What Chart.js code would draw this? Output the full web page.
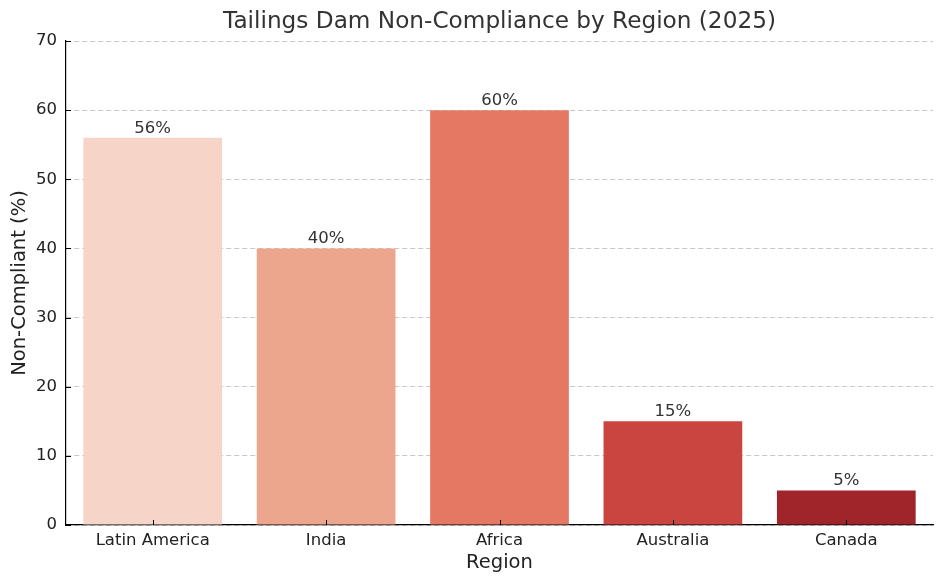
<!DOCTYPE html>
<html>
<head>
<meta charset="utf-8">
<script src="https://cdn.jsdelivr.net/npm/chart.js@4"></script>
<style>
  html, body { margin: 0; padding: 0; background: #fff; }
  #wrap { width: 945px; height: 586px; }
</style>
</head>
<body>
<div id="wrap"><canvas id="chart"></canvas></div>
<script>
// ---------- DATA ----------
const regions = ["Latin America", "India", "Africa", "Australia", "Canada"];
const nonCompliant = [56, 40, 60, 15, 5];
const barColors = ["#f6d5c8", "#eca68d", "#e47862", "#cb4540", "#9f252b"];
const yTicks = [0, 10, 20, 30, 40, 50, 60, 70];

const FONT = "'DejaVu Sans', sans-serif";
const TITLE = "Tailings Dam Non-Compliance by Region (2025)";

// title centred over the plot area, value labels, inward tick marks
const extras = {
  id: "extras",
  afterDatasetsDraw(chart) {
    const ctx = chart.ctx;
    const area = chart.chartArea;
    const meta = chart.getDatasetMeta(0);
    ctx.save();
    ctx.font = "16.5px " + FONT;
    ctx.fillStyle = "#333";
    ctx.textAlign = "center";
    ctx.textBaseline = "bottom";
    meta.data.forEach((bar, i) => {
      ctx.fillText(nonCompliant[i] + "%", bar.x, bar.y - 1);
    });

    ctx.font = "23.2px " + FONT;
    ctx.textBaseline = "middle";
    ctx.fillText(TITLE, (area.left + area.right) / 2, 22);
    ctx.restore();
  },
  afterDraw(chart) {
    const ctx = chart.ctx;
    const area = chart.chartArea;
    const xs = chart.scales.x, ys = chart.scales.y;
    ctx.save();
    ctx.strokeStyle = "#000";
    ctx.lineWidth = 1;
    ctx.beginPath();
    xs.ticks.forEach((t, i) => {
      const px = Math.round(xs.getPixelForTick(i)) + 0.5;
      ctx.moveTo(px, area.bottom);
      ctx.lineTo(px, area.bottom - 5);
    });
    yTicks.forEach(v => {
      const py = Math.round(ys.getPixelForValue(v)) + 0.5;
      ctx.moveTo(area.left, py);
      ctx.lineTo(area.left + 5, py);
    });
    ctx.stroke();
    ctx.restore();
  }
};

new Chart(document.getElementById("chart"), {
  type: "bar",
  data: {
    labels: regions,
    datasets: [{
      label: "Non-Compliant (%)",
      data: nonCompliant,
      backgroundColor: barColors,
      categoryPercentage: 0.8,
      barPercentage: 1.0
    }]
  },
  options: {
    responsive: true,
    maintainAspectRatio: false,
    animation: false,
    layout: { padding: { left: 0, right: 12, top: 41, bottom: 0 } },
    plugins: {
      legend: { display: false },
      tooltip: { enabled: false },
      title: { display: false }
    },
    scales: {
      x: {
        grid: { display: false, drawTicks: false },
        border: { display: true, color: "#000", width: 1.2 },
        ticks: { color: "#222", padding: 6, font: { family: FONT, size: 16.5 } },
        title: {
          display: true,
          text: "Region",
          color: "#222",
          font: { family: FONT, size: 19.5 },
          padding: { top: 0, bottom: 11 }
        },
        afterFit: s => { s.height = 61; }
      },
      y: {
        min: 0,
        max: 70,
        z: 1,
        afterBuildTicks: s => { s.ticks = yTicks.map(v => ({ value: v })); },
        grid: {
          drawTicks: false,
          color: "rgba(176,176,176,0.7)",
          lineWidth: 1
        },
        border: { display: true, color: "#000", width: 1.2, dash: [5, 3] },
        ticks: { color: "#222", padding: 9, font: { family: FONT, size: 16.5 } },
        title: {
          display: true,
          text: "Non-Compliant (%)",
          color: "#222",
          font: { family: FONT, size: 19.5 },
          padding: { top: 8, bottom: 0 }
        },
        afterFit: s => { s.width = 66; }
      }
    }
  },
  plugins: [extras]
});
</script>
</body>
</html>
